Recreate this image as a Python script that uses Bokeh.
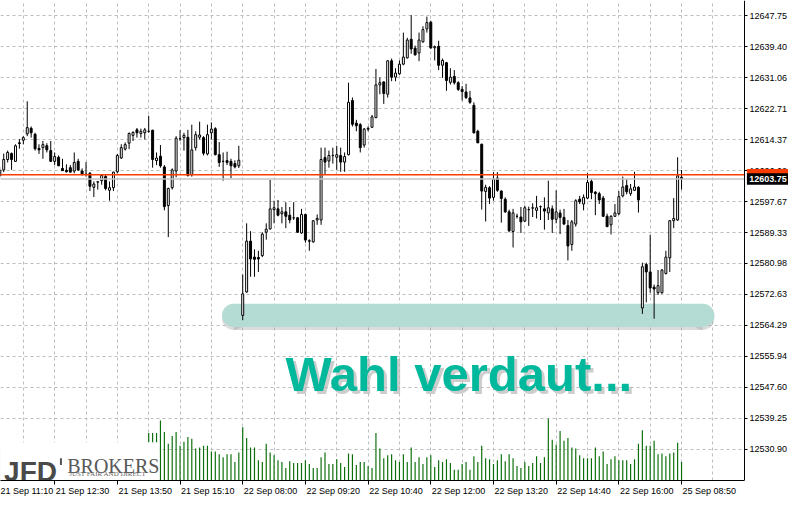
from bokeh.plotting import figure
from bokeh.models import Range1d, FixedTicker, NumeralTickFormatter, Label, BoxAnnotation, ColumnDataSource
from bokeh.core.properties import value
from bokeh.embed import file_html
from bokeh.resources import INLINE

# ---------------- data (5-minute bars, index -1 .. 173) ----------------
bars = list(range(-1, 174))

opens = [
    12604.6, 12606.2, 12609.0, 12610.6, 12608.5, 12613.5, 12614.2, 12615.9, 12617.4, 12615.8,
    12612.0, 12612.2, 12612.7, 12611.4, 12608.5, 12609.6, 12606.6, 12606.1, 12606.8, 12605.9,
    12608.5, 12605.9, 12605.0, 12605.3, 12601.5, 12602.9, 12603.3, 12604.4, 12600.7, 12601.4,
    12605.7, 12609.4, 12611.8, 12613.4, 12615.5, 12617.0, 12616.0, 12616.2, 12616.6, 12616.9,
    12608.7, 12609.9, 12607.0, 12596.6, 12601.4, 12605.9, 12614.6, 12614.9, 12615.0, 12604.9,
    12612.2, 12615.0, 12614.9, 12610.5, 12616.2, 12617.3, 12610.3, 12608.5, 12608.7, 12608.5,
    12607.9, 12607.3, 12567.0, 12573.3, 12587.0, 12582.7, 12582.6, 12583.1, 12589.4, 12590.3,
    12595.5, 12595.7, 12594.4, 12594.9, 12594.0, 12593.3, 12593.3, 12589.2, 12594.2, 12587.1,
    12586.8, 12592.7, 12592.7, 12609.5, 12608.6, 12610.1, 12609.6, 12610.1, 12608.3, 12610.3,
    12624.9, 12618.8, 12618.4, 12612.9, 12617.2, 12617.7, 12620.3, 12629.1, 12629.9, 12626.6,
    12635.6, 12631.2, 12632.1, 12634.7, 12636.4, 12641.4, 12639.0, 12637.7, 12640.7, 12644.2,
    12646.0, 12639.1, 12639.5, 12634.4, 12635.1, 12629.8, 12631.4, 12629.7, 12627.9, 12627.2,
    12625.6, 12623.6, 12616.6, 12613.1, 12600.4, 12601.4, 12598.8, 12604.0, 12600.5, 12598.3,
    12594.9, 12589.6, 12593.7, 12593.5, 12592.4, 12595.5, 12595.9, 12595.3, 12596.3, 12595.7,
    12594.6, 12595.7, 12592.9, 12594.6, 12593.4, 12591.2, 12586.1, 12591.6, 12598.3, 12597.0,
    12598.6, 12603.1, 12600.2, 12599.8, 12598.6, 12593.7, 12591.4, 12593.7, 12594.4, 12599.2,
    12602.0, 12599.8, 12600.7, 12601.5, 12569.0, 12580.7, 12578.7, 12574.6, 12573.1, 12573.1,
    12578.3, 12582.5, 12592.5, 12592.7, 12604.2,
]
highs = [
    12607.0, 12610.6, 12611.4, 12610.9, 12613.1, 12614.5, 12615.3, 12624.7, 12617.9, 12616.2,
    12613.1, 12614.0, 12613.4, 12614.0, 12610.9, 12610.1, 12609.2, 12607.7, 12607.5, 12610.9,
    12609.2, 12606.6, 12608.3, 12605.6, 12603.1, 12603.1, 12605.0, 12604.9, 12603.1, 12605.7,
    12610.5, 12613.1, 12613.6, 12616.3, 12616.6, 12617.5, 12617.3, 12617.5, 12620.8, 12617.0,
    12610.9, 12612.9, 12607.5, 12601.4, 12606.6, 12615.3, 12616.9, 12616.2, 12617.0, 12618.4,
    12616.6, 12619.2, 12615.3, 12618.4, 12619.0, 12617.7, 12613.7, 12610.9, 12611.1, 12609.2,
    12608.8, 12612.7, 12578.0, 12591.8, 12589.7, 12584.8, 12584.4, 12589.4, 12591.8, 12603.5,
    12597.9, 12598.1, 12596.2, 12597.5, 12596.2, 12597.5, 12593.5, 12595.7, 12594.4, 12587.5,
    12592.7, 12594.2, 12612.2, 12612.2, 12611.4, 12612.2, 12612.7, 12612.2, 12610.9, 12629.7,
    12625.7, 12619.7, 12618.8, 12617.5, 12617.9, 12621.0, 12633.4, 12631.1, 12630.1, 12635.7,
    12636.2, 12633.6, 12635.7, 12643.2, 12641.8, 12647.9, 12639.7, 12643.2, 12644.9, 12647.5,
    12646.4, 12639.7, 12641.0, 12636.2, 12635.3, 12633.6, 12633.1, 12630.1, 12628.8, 12629.4,
    12627.5, 12624.4, 12617.0, 12613.3, 12602.2, 12601.8, 12605.6, 12605.6, 12600.7, 12598.8,
    12595.5, 12595.7, 12594.4, 12596.2, 12596.6, 12596.3, 12597.2, 12599.2, 12596.6, 12598.8,
    12603.3, 12596.6, 12600.7, 12595.5, 12595.7, 12592.7, 12592.7, 12598.3, 12599.2, 12599.6,
    12605.3, 12603.8, 12600.5, 12600.3, 12599.2, 12594.4, 12594.0, 12597.0, 12600.5, 12604.4,
    12603.7, 12602.4, 12605.7, 12601.8, 12581.2, 12581.2, 12588.7, 12575.3, 12579.2, 12579.5,
    12584.4, 12592.7, 12598.6, 12609.6, 12606.2,
]
lows = [
    12604.1, 12605.6, 12608.2, 12606.2, 12608.4, 12611.9, 12613.1, 12615.3, 12614.9, 12611.4,
    12610.5, 12609.2, 12610.9, 12608.3, 12607.5, 12607.3, 12606.0, 12605.5, 12605.5, 12605.3,
    12605.9, 12604.8, 12604.4, 12600.5, 12598.9, 12600.9, 12602.2, 12600.7, 12597.9, 12600.5,
    12605.3, 12609.2, 12611.4, 12611.8, 12614.0, 12614.9, 12614.9, 12614.4, 12616.2, 12606.8,
    12607.5, 12606.8, 12595.3, 12588.1, 12600.9, 12604.2, 12614.0, 12611.4, 12604.4, 12604.4,
    12611.4, 12614.4, 12610.1, 12610.1, 12614.4, 12610.1, 12607.0, 12603.3, 12607.5, 12604.0,
    12606.6, 12606.7, 12565.7, 12573.1, 12577.4, 12577.4, 12578.7, 12582.7, 12587.4, 12590.1,
    12591.8, 12593.7, 12591.8, 12590.5, 12591.8, 12592.7, 12589.2, 12589.0, 12586.6, 12584.4,
    12586.6, 12591.4, 12591.4, 12604.9, 12606.8, 12607.9, 12606.2, 12605.7, 12605.7, 12610.1,
    12617.9, 12616.6, 12610.9, 12612.2, 12616.6, 12617.5, 12620.1, 12626.6, 12624.0, 12625.7,
    12630.1, 12630.1, 12631.8, 12634.4, 12636.2, 12637.5, 12637.0, 12635.5, 12640.5, 12643.2,
    12638.8, 12635.7, 12633.1, 12631.0, 12627.5, 12629.2, 12629.2, 12627.5, 12624.9, 12625.3,
    12624.0, 12616.0, 12613.4, 12595.5, 12592.3, 12597.0, 12597.9, 12600.3, 12592.0, 12594.6,
    12589.4, 12585.3, 12593.1, 12589.2, 12592.2, 12591.1, 12593.5, 12593.1, 12592.7, 12590.1,
    12592.7, 12589.2, 12591.8, 12588.9, 12591.4, 12581.8, 12584.4, 12590.9, 12597.0, 12595.3,
    12598.3, 12598.3, 12594.0, 12597.0, 12593.5, 12590.8, 12588.8, 12593.5, 12594.0, 12598.8,
    12599.6, 12599.2, 12600.5, 12594.7, 12567.4, 12570.5, 12573.1, 12566.1, 12572.5, 12572.8,
    12578.0, 12578.7, 12590.5, 12592.5, 12600.9,
]
closes = [
    12606.2, 12609.0, 12610.9, 12609.0, 12612.7, 12613.3, 12614.9, 12617.6, 12616.2, 12611.9,
    12611.6, 12613.0, 12611.6, 12608.5, 12609.8, 12607.3, 12606.0, 12605.7, 12605.6, 12608.2,
    12606.2, 12604.9, 12605.0, 12601.8, 12602.4, 12603.0, 12604.7, 12601.2, 12601.4, 12605.6,
    12610.1, 12612.2, 12613.0, 12616.0, 12616.3, 12616.2, 12616.6, 12617.0, 12616.6, 12609.0,
    12609.4, 12607.3, 12596.3, 12601.2, 12606.2, 12614.7, 12614.6, 12615.5, 12604.7, 12611.6,
    12615.7, 12615.6, 12610.7, 12615.7, 12617.2, 12610.3, 12608.2, 12608.5, 12608.2, 12607.3,
    12607.0, 12608.8, 12572.8, 12587.0, 12582.2, 12582.1, 12582.2, 12588.9, 12590.2, 12595.7,
    12596.0, 12594.0, 12594.9, 12593.7, 12592.7, 12593.3, 12589.4, 12594.2, 12587.3, 12587.0,
    12592.5, 12593.1, 12609.0, 12608.3, 12610.1, 12610.1, 12610.3, 12608.3, 12609.8, 12624.4,
    12618.5, 12618.1, 12612.2, 12617.2, 12617.4, 12620.5, 12629.1, 12629.7, 12626.8, 12635.6,
    12631.2, 12632.3, 12634.7, 12636.6, 12641.2, 12638.8, 12637.2, 12641.2, 12644.0, 12645.9,
    12639.1, 12639.4, 12634.4, 12635.7, 12630.3, 12631.2, 12629.7, 12627.9, 12627.3, 12625.7,
    12624.4, 12616.2, 12613.5, 12600.5, 12601.5, 12598.6, 12603.7, 12600.7, 12598.5, 12594.9,
    12589.8, 12594.6, 12593.7, 12592.2, 12596.0, 12595.5, 12596.0, 12596.0, 12596.3, 12595.1,
    12596.0, 12592.9, 12594.9, 12593.4, 12591.6, 12585.7, 12592.2, 12597.9, 12597.6, 12598.8,
    12602.8, 12600.1, 12599.8, 12598.1, 12593.7, 12590.9, 12593.7, 12594.6, 12599.0, 12601.6,
    12600.3, 12601.1, 12601.6, 12598.1, 12580.1, 12578.7, 12574.4, 12574.1, 12575.0, 12579.2,
    12582.7, 12592.5, 12593.1, 12604.6, 12603.75,
]
volumes = [
    310, 340, 280, 360, 320, 290, 380, 350, 330, 270, 300, 320, 290, 340, 310, 280, 260, 300, 330,
    290, 270, 310, 350, 300, 280, 260, 320, 300, 340, 360, 330, 300, 350, 290, 310, 280, 300, 320,
    490, 490, 490, 620, 500, 380, 460, 500, 360, 400,
    450, 430, 330, 340, 360, 360, 300, 300, 270, 240,
    270, 270, 190, 290, 550, 440, 340, 340, 210, 190,
    380, 290, 260, 210, 190, 130, 200, 180, 180, 180,
    210, 170, 130, 130, 240, 290, 170, 170, 220, 180,
    140, 280, 270, 160, 190, 190, 150, 130, 490, 330,
    230, 260, 270, 210, 190, 270, 190, 340, 190, 240,
    170, 240, 260, 140, 210, 190, 220, 180, 110, 110,
    170, 190, 110, 250, 190, 360, 230, 220, 170, 210,
    270, 200, 270, 230, 150, 130, 190, 150, 180, 250,
    180, 240, 640, 420, 370, 510, 410, 440, 340, 330,
    260, 230, 230, 230, 340, 250, 300, 170, 220, 250,
    210, 210, 210, 170, 220, 380, 520, 360, 360, 410,
    270, 280, 250, 280, 290, 390, 190,
]

time_tick_bars = [-3, 13, 29, 45, 61, 77, 93, 109, 125, 141, 157, 173]
time_tick_labels = ["21 Sep 11:10", "21 Sep 12:30", "21 Sep 13:50", "21 Sep 15:10",
                    "22 Sep 08:00", "22 Sep 09:20", "22 Sep 10:40", "22 Sep 12:00",
                    "22 Sep 13:20", "22 Sep 14:40", "22 Sep 16:00", "25 Sep 08:50"]
price_ticks = [12647.75, 12639.40, 12631.06, 12622.71, 12614.37, 12606.02, 12597.67,
               12589.33, 12580.98, 12572.63, 12564.29, 12555.94, 12547.60, 12539.25, 12530.90]
bid_price = 12603.75
line_price = 12604.86
headline = "Wahl verdaut..."

# ---------------- figure ----------------
# X1 = position of the price axis; the frame continues to X_END so the
# price scale (and its price boxes) sit inside the canvas.
X0, X1, X_END = -0.825, 189.05, 200.3
Y0, Y1 = 12522.5, 12651.85
p = figure(frame_width=788, frame_height=480,
           x_range=Range1d(X0, X_END), y_range=Range1d(Y0, Y1),
           output_backend="svg", toolbar_location=None,
           min_border_left=0, min_border_top=0, min_border_right=0, min_border_bottom=20,
           y_axis_location="right", outline_line_color=None,
           background_fill_color="white", border_fill_color="white")
p.extra_y_ranges = {"vol": Range1d(0, 4955)}

LBL_FONT = "Liberation Sans"

# price axis (fixed at X1)
yax = p.yaxis[0]
yax.fixed_location = X1
yax.ticker = FixedTicker(ticks=price_ticks)
yax.formatter = NumeralTickFormatter(format="0.00")
yax.major_tick_in = 0
yax.major_tick_out = 3
yax.minor_tick_line_color = None
yax.major_label_standoff = 2
yax.major_label_text_font = LBL_FONT
yax.major_label_text_font_size = "9px"
yax.major_label_text_color = "black"
yax.axis_line_color = "black"

# bottom (time) axis: labels start just right of their tick
label_shift = 7.1
label_centers = [b + label_shift for b in time_tick_bars]
xax = p.xaxis[0]
xax.bounds = (X0, X1)
xax.ticker = FixedTicker(ticks=label_centers, minor_ticks=time_tick_bars)
xax.major_label_overrides = {c: t for c, t in zip(label_centers, time_tick_labels)}
xax.major_tick_line_color = None
xax.major_tick_in = 0
xax.major_tick_out = 4
xax.minor_tick_in = 0
xax.minor_tick_out = 4
xax.minor_tick_line_color = "black"
xax.major_label_standoff = 1
xax.major_label_text_font = LBL_FONT
xax.major_label_text_font_size = "9px"
xax.major_label_text_color = "black"
xax.axis_line_color = "black"

# grids
grid_bars = [time_tick_bars[0] + 8 * m for m in range(0, 24)]
p.xgrid.ticker = FixedTicker(ticks=grid_bars)
p.ygrid.ticker = FixedTicker(ticks=price_ticks)
for g in (p.xgrid, p.ygrid):
    g.grid_line_color = "#bdbdbd"
    g.grid_line_dash = "3 3"
    g.grid_line_width = 1

# price-scale strip stays clean (grid lines stop at the axis)
p.quad(left=[X1], right=[X_END + 1], bottom=[Y0 - 1], top=[Y1 + 1],
       fill_color="white", line_color=None)

# ---------------- volumes ----------------
vsrc = ColumnDataSource(dict(bar=bars, volume=volumes))
p.vbar(x="bar", width=0.3, top="volume", bottom=0, y_range_name="vol",
       source=vsrc, fill_color="#0a6f0a", line_color=None)

# logo backdrop
p.quad(left=[X0 - 1], right=[39.7], bottom=[Y0 - 1], top=[12532.8],
       fill_color="white", line_color=None)

# ---------------- highlight band ----------------
band_left, band_right, band_mid, band_h, cap_w = 58.7, 178.4, 12567.0, 6.27, 6.0
for dy, col, alpha in ((-0.8, "#9a9a9a", 0.35), (0.0, "#b5dcd4", 1.0)):
    p.quad(left=[band_left], right=[band_right], bottom=[band_mid + dy - band_h / 2],
           top=[band_mid + dy + band_h / 2], fill_color=col, fill_alpha=alpha, line_color=None)
    p.ellipse(x=[band_left, band_right], y=[band_mid + dy] * 2, width=cap_w, height=band_h,
              fill_color=col, fill_alpha=alpha, line_color=None)

# ---------------- candles ----------------
tops = [max(o, c) for o, c in zip(opens, closes)]
bottoms = [min(o, c) for o, c in zip(opens, closes)]
fills = ["white" if c >= o else "black" for o, c in zip(opens, closes)]
csrc = ColumnDataSource(dict(bar=bars, high=highs, low=lows, top=tops, bottom=bottoms, fill=fills))
p.segment(x0="bar", y0="low", x1="bar", y1="high", source=csrc, line_color="black", line_width=1)
p.vbar(x="bar", width=0.5, top="top", bottom="bottom", source=csrc,
       fill_color="fill", line_color="black", line_width=1)

# ---------------- price lines (end at the price axis) ----------------
p.segment(x0=[X0 - 1], y0=[bid_price], x1=[X1], y1=[bid_price], line_color="#c4c4c4", line_width=1.5)
p.segment(x0=[X0 - 1], y0=[line_price], x1=[X1], y1=[line_price], line_color="#ff3c00", line_width=1.5)

# ---------------- headline ----------------
p.text(x=[71.9], y=[12551.3], text=[headline], x_offset=3, y_offset=3,
       text_font=value("Liberation Sans"), text_font_style="bold", text_font_size="49px",
       text_color="#b8b8b8", text_alpha=0.7, text_baseline="alphabetic", text_align="left")
p.text(x=[71.9], y=[12551.3], text=[headline],
       text_font=value("Liberation Sans"), text_font_style="bold", text_font_size="49px",
       text_color="#00b89c", text_baseline="alphabetic", text_align="left")

# ---------------- logo ----------------
p.text(x=[0.1], y=[12524.9], text=["JFD"], text_font=value("Liberation Sans"),
       text_font_style="bold", text_font_size="28px", text_color="#4a4a4a",
       text_baseline="alphabetic", text_align="left")
p.segment(x0=[14.6], y0=[12526.7], x1=[14.6], y1=[12528.5], line_color="#555555", line_width=2)
p.text(x=[16.2], y=[12526.3], text=["BROKERS"], text_font=value("Liberation Serif"),
       text_font_size="20px", text_color="#585858", text_baseline="alphabetic", text_align="left")
p.text(x=[16.7], y=[12524.3], text=["JUST FAIR AND DIRECT"], text_font=value("Liberation Serif"),
       text_font_size="7px", text_color="#666666", text_baseline="alphabetic", text_align="left")

# ---------------- price boxes on the price scale (drawn above the axis labels) ----------------
box_left, box_half = 189.69, 1.57
p.add_layout(BoxAnnotation(left=box_left, right=X_END + 1,
                           bottom=line_price - box_half, top=line_price + box_half,
                           fill_color="#ff3c00", fill_alpha=1.0, line_color=None))
p.add_layout(BoxAnnotation(left=box_left, right=X_END + 1,
                           bottom=bid_price - box_half, top=bid_price + box_half,
                           fill_color="black", fill_alpha=1.0, line_color=None))
p.add_layout(Label(x=190.3, y=bid_price, text=f"{bid_price:.2f}", text_font=LBL_FONT,
                   text_font_size="9px", text_font_style="bold", text_color="white",
                   text_baseline="middle", text_align="left"))

open("out.html", "w").write(file_html(p, INLINE))
